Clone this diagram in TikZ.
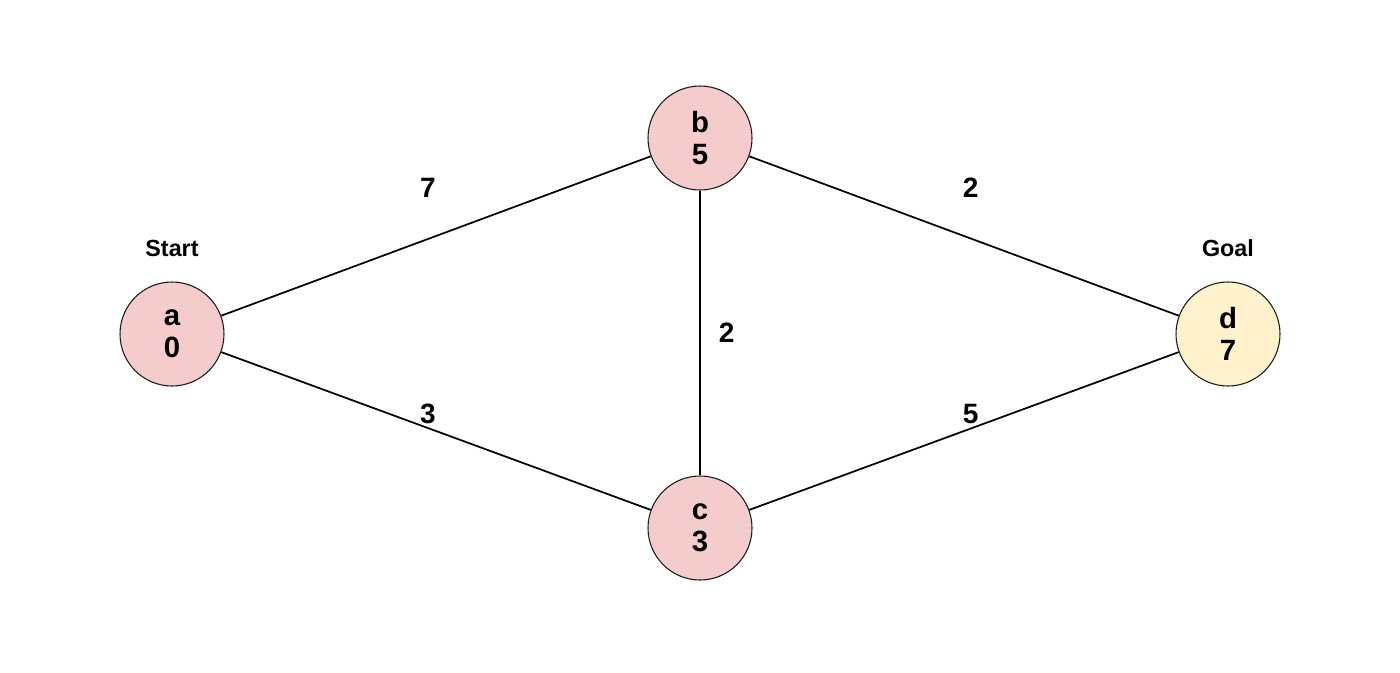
\documentclass[tikz,border=0pt]{standalone}
\usepackage{fontspec}
\setmainfont{Liberation Sans}
\usetikzlibrary{positioning}

\begin{document}
\begin{tikzpicture}[x=0.75pt, y=-0.75pt]
    % Define colours
    \definecolor{borderColour}{HTML}{1A1A1A}
    \definecolor{visitedColour}{HTML}{F4CCCC}
    \definecolor{goalColour}{HTML}{FFF2CC}

    % Define styles
    \tikzset{
        vertex/.style={circle, draw=borderColour, line width=0.8pt, minimum size=78pt,
            inner sep=0pt, align=center, font=\bfseries\fontsize{22}{24}\selectfont},
        tag/.style={inner sep=0pt, font=\bfseries\fontsize{17.5}{20}\selectfont},
        weight/.style={font=\bfseries\fontsize{21}{24}\selectfont},
        edge/.style={line width=1.3pt, black}
    }

    % Fix the picture size
    \useasboundingbox (0,0) rectangle (1400,672);

    % Draw the vertices
    \node[vertex, fill=visitedColour] (a) at (172,334) {a\\0};
    \node[vertex, fill=visitedColour] (b) at (700,138) {b\\5};
    \node[vertex, fill=visitedColour] (c) at (700,528) {c\\3};
    \node[vertex, fill=goalColour] (d) at (1228,334) {d\\7};

    % Label start and goal
    \node[tag, above=18pt of a] (start) {Start};
    \node[tag, above=18pt of d] (goal) {Goal};

    % Draw the weighted edges
    \draw[edge] (a) -- (b) node[weight, midway, xshift=-6pt, yshift=36pt] (wab) {7};
    \draw[edge] (a) -- (c) node[weight, midway, xshift=-6pt, yshift=13pt] (wac) {3};
    \draw[edge] (b) -- (c) node[weight, midway, xshift=20pt] (wbc) {2};
    \draw[edge] (b) -- (d) node[weight, midway, xshift=5pt, yshift=36pt] (wbd) {2};
    \draw[edge] (c) -- (d) node[weight, midway, xshift=5pt, yshift=13pt] (wcd) {5};

\end{tikzpicture}
\end{document}
